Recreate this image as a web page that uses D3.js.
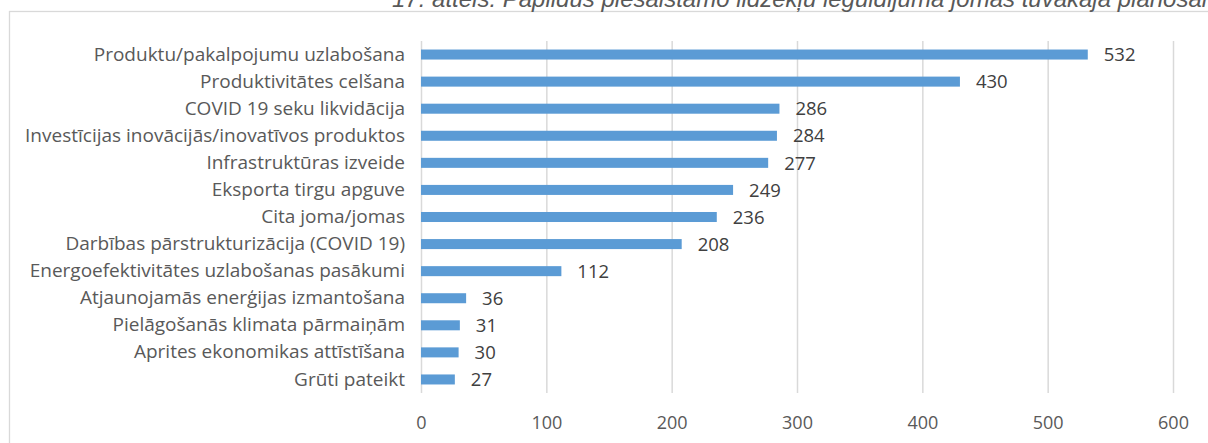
<!DOCTYPE html>
<html>
<head>
<meta charset="utf-8">
<script src="https://cdn.jsdelivr.net/npm/d3@7"></script>
<style>
  body { margin: 0; background: #fff; }
  svg { display: block; }
</style>
</head>
<body>
<script>
   // chart data
   let categories = [
      'Produktu/pakalpojumu uzlabošana',
      'Produktivitātes celšana',
      'COVID 19 seku likvidācija',
      'Investīcijas inovācijās/inovatīvos produktos',
      'Infrastruktūras izveide',
      'Eksporta tirgu apguve',
      'Cita joma/jomas',
      'Darbības pārstrukturizācija (COVID 19)',
      'Energoefektivitātes uzlabošanas pasākumi',
      'Atjaunojamās enerģijas izmantošana',
      'Pielāgošanās klimata pārmaiņām',
      'Aprites ekonomikas attīstīšana',
      'Grūti pateikt'
   ];
   let values = [532, 430, 286, 284, 277, 249, 236, 208, 112, 36, 31, 30, 27];
   let xTicks = [0, 100, 200, 300, 400, 500, 600];
   let title = '17. attēls. Papildus piesaistāmo līdzekļu ieguldījuma jomas tuvākajā plānošanas periodā';

   // canvas
   let width = 1208;
   let height = 443;
   let plotLeft = 421;
   let plotRight = 1173;
   let plotTop = 41;
   let plotBottom = 393;
   let font = '"Open Sans", sans-serif';

   let svg = d3.select('body').append('svg')
      .attr('width', width)
      .attr('height', height);

   // chart area border (runs off the right and bottom edges)
   svg.append('rect')
      .attr('x', 9.5)
      .attr('y', 11.5)
      .attr('width', width + 20)
      .attr('height', height + 20)
      .attr('fill', 'none')
      .attr('stroke', '#d9d9d9')
      .attr('stroke-width', 1.3);

   // caption, clipped at the top and right of the picture
   svg.append('text')
      .attr('x', 392)
      .attr('y', 7)
      .attr('font-family', '"Liberation Sans", Arial, sans-serif')
      .attr('font-style', 'italic')
      .attr('font-size', 24)
      .attr('fill', '#595959')
      .text(title);

   let xScale = d3.scaleLinear()
      .domain([0, 600])
      .range([plotLeft, plotRight]);

   let yScale = d3.scaleBand()
      .domain(categories)
      .range([plotTop, plotBottom])
      .paddingInner(0.63)
      .paddingOuter(0.315);

   // vertical gridlines
   let grid = svg.append('g')
      .attr('transform', 'translate(0,' + plotBottom + ')')
      .call(d3.axisBottom(xScale).tickValues(xTicks).tickSize(-(plotBottom - plotTop)).tickFormat(''));
   grid.select('.domain').remove();
   grid.selectAll('line')
      .attr('stroke', '#d9d9d9')
      .attr('stroke-width', 1.5);

   // x axis labels
   let xAxis = svg.append('g')
      .attr('transform', 'translate(0,' + plotBottom + ')')
      .call(d3.axisBottom(xScale).tickValues(xTicks).tickSize(0).tickPadding(23));
   xAxis.select('.domain').remove();
   xAxis.selectAll('text')
      .attr('font-family', font)
      .attr('font-size', 18)
      .attr('fill', '#595959');

   // category labels
   let yAxis = svg.append('g')
      .attr('transform', 'translate(' + plotLeft + ',0)')
      .call(d3.axisLeft(yScale).tickSize(0).tickPadding(16));
   yAxis.select('.domain').remove();
   yAxis.selectAll('text')
      .attr('font-family', font)
      .attr('font-size', 19)
      .attr('fill', '#595959');

   // bars
   svg.selectAll('rect.bar')
      .data(values)
      .enter()
      .append('rect')
      .attr('class', 'bar')
      .attr('x', xScale(0))
      .attr('y', (d, i) => yScale(categories[i]))
      .attr('width', (d) => xScale(d) - xScale(0))
      .attr('height', yScale.bandwidth())
      .attr('fill', '#5b9bd5');

   // value labels
   svg.selectAll('text.value')
      .data(values)
      .enter()
      .append('text')
      .attr('class', 'value')
      .attr('x', (d) => xScale(d) + 16)
      .attr('y', (d, i) => yScale(categories[i]) + yScale.bandwidth() / 2)
      .attr('dy', '0.36em')
      .attr('font-family', font)
      .attr('font-size', 18.5)
      .attr('fill', '#404040')
      .text((d) => d);
</script>
</body>
</html>
